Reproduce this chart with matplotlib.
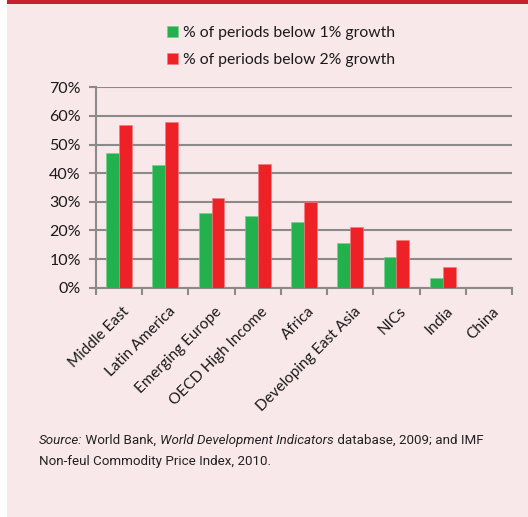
import matplotlib
matplotlib.use("Agg")
import matplotlib.pyplot as plt
from matplotlib.patches import Rectangle
import matplotlib.transforms as mtransforms
import numpy as np

categories = ["Middle East", "Latin America", "Emerging Europe", "OECD High Income",
              "Africa", "Developing East Asia", "NICs", "India", "China"]
below_1 = [47, 43, 26, 25, 23, 15.5, 10.7, 3.4, 0]
below_2 = [57, 58, 31.3, 43.2, 30, 21.3, 16.8, 7.1, 0]
series_labels = ["% of periods below 1% growth", "% of periods below 2% growth"]
yticks = [0, 10, 20, 30, 40, 50, 60, 70]

GREEN = "#22b14c"
RED = "#ee2127"
BG = "#f9e8e9"
GRID = "#8a8a8a"
TXT = "#1a1a1a"

plt.rcParams["font.family"] = ["Lato", "DejaVu Sans"]

fig = plt.figure(figsize=(5.28, 5.17), dpi=100)
fig.patch.set_facecolor("white")
fig.patches.append(Rectangle((7/528, 0), 1, 1, transform=fig.transFigure,
                             facecolor=BG, edgecolor="none", zorder=-10))
fig.patches.append(Rectangle((7/528, 1-3.5/517), 1, 3.5/517, transform=fig.transFigure,
                             facecolor="#c8202f", edgecolor="none", zorder=-9))

ax = fig.add_axes([96/528, 1-287.7/517, 416/528, 200.4/517])
ax.set_facecolor("none")
x = np.arange(len(categories))
w = 0.28
b1 = ax.bar(x - w/2, below_1, width=w, color=GREEN, edgecolor="#6fd08a", linewidth=0.4,
            label=series_labels[0], zorder=3)
b2 = ax.bar(x + w/2, below_2, width=w, color=RED, edgecolor="#f57c80", linewidth=0.4,
            label=series_labels[1], zorder=3)

ax.set_xlim(-0.5, len(categories) - 0.5)
ax.set_ylim(0, 70)
ax.set_yticks(yticks)
ax.set_yticklabels([f"{v}%" for v in yticks], fontsize=11.5, color=TXT)
ax.yaxis.grid(True, color=GRID, linewidth=1.5, zorder=0)
ax.set_axisbelow(True)

ax.set_xticks(np.arange(len(categories) + 1) - 0.5)
ax.set_xticklabels([])
ax.set_xticks(x, minor=True)
ax.set_xticklabels(categories, minor=True, rotation=45, ha="right",
                   rotation_mode="anchor", fontsize=11, color=TXT)
ax.tick_params(axis="x", which="minor", length=0, pad=12)
ax.tick_params(axis="x", which="major", length=5, width=1.5, color=GRID, direction="out")
ax.tick_params(axis="y", length=5, width=1.5, color=GRID, direction="out", pad=6)
off = mtransforms.ScaledTranslation(3/100, 0, fig.dpi_scale_trans)
for lab in ax.get_xticklabels(minor=True):
    lab.set_transform(lab.get_transform() + off)

for s in ["top", "right"]:
    ax.spines[s].set_visible(False)
for s in ["left", "bottom"]:
    ax.spines[s].set_color(GRID)
    ax.spines[s].set_linewidth(1.5)

leg = fig.legend(handles=[b1, b2], labels=series_labels, loc="center",
                 bbox_to_anchor=(281/528, 1-46.5/517), frameon=False, fontsize=11.3,
                 handlelength=0.7, handleheight=0.7, handletextpad=0.35,
                 labelspacing=0.8, labelcolor=TXT)

# source note with mixed styles
fig.canvas.draw()
renderer = fig.canvas.get_renderer()
src_font = ["Roboto", "DejaVu Sans"]
pieces = [("Source:", "italic"), (" World Bank, ", "normal"),
          ("World Development Indicators", "italic"), (" database, 2009; and IMF", "normal")]

def place(fs, draw_y):
    xpos = 39 / 528
    made = []
    for txt, style in pieces:
        t = fig.text(xpos, draw_y, txt, fontsize=fs, style=style, family=src_font,
                     color="#222222", va="baseline", ha="left")
        bb = t.get_window_extent(renderer)
        xpos = bb.x1 / fig.bbox.width
        made.append(t)
    return made, xpos * fig.bbox.width

fs = 11
made, xend = place(fs, 1 - 444/517)
target = 482.0
width = xend - 39
for t in made:
    t.remove()
fs = fs * (target - 39) / width
made, xend = place(fs, 1 - 444/517)
fig.text(39/528, 1 - 465/517, "Non-feul Commodity Price Index, 2010.", fontsize=fs,
         family=src_font, color="#222222", va="baseline", ha="left")

fig.savefig("out.png", dpi=100, facecolor=fig.get_facecolor())
